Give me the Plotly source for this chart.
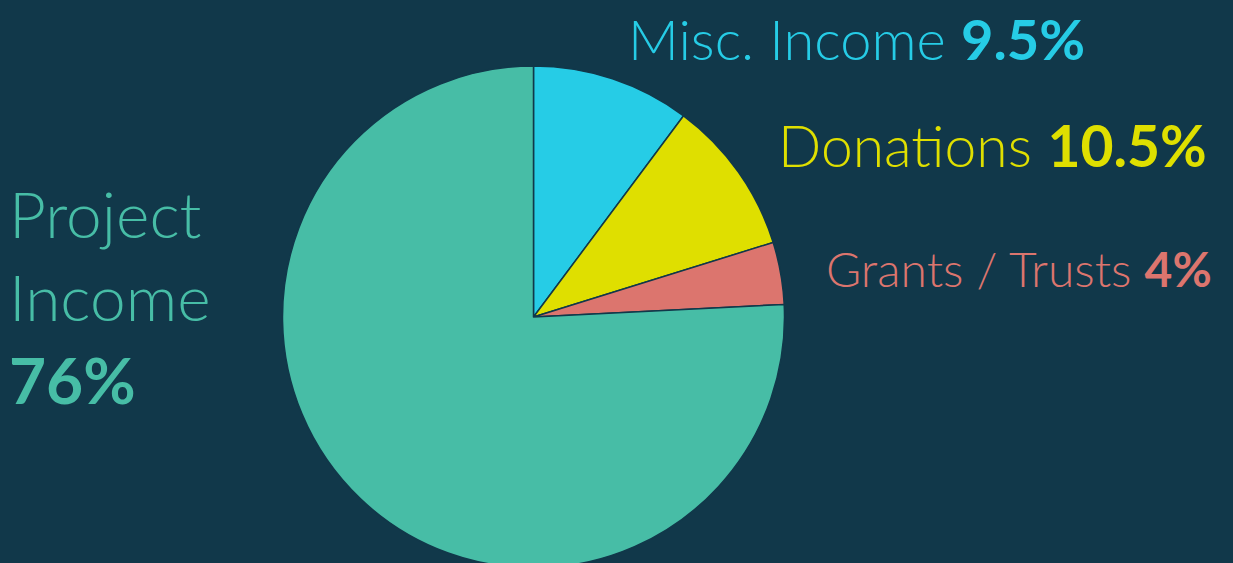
import plotly.graph_objects as go

# Data (slice sizes as drawn) and label texts
categories = ["Misc. Income", "Donations", "Grants / Trusts", "Project Income"]
slice_values = [10.2, 10.0, 4.0, 75.8]
label_pcts = ["9.5%", "10.5%", "4%", "76%"]
colors = ["#26cce6", "#dfdf00", "#dc756e", "#47bda6"]

BG = "#11384a"
W, H = 1233, 580

def px_x(x):
    return x / W

def px_y(y):
    return 1 - y / H

cx, cy, r = 533.5, 317, 251

fig = go.Figure(go.Pie(
    labels=categories,
    values=slice_values,
    sort=False,
    direction="clockwise",
    rotation=0,
    marker=dict(colors=colors, line=dict(color=BG, width=1.5)),
    textinfo="none",
    hoverinfo="label+percent",
    showlegend=False,
    domain=dict(x=[px_x(cx - r), px_x(cx + r)], y=[px_y(cy + r), px_y(cy - r)]),
))

FONT = "Lato"
ann = [
    # text, x_left, y_center, size, color
    (f"{categories[0]} <b>{label_pcts[0]}</b>", 626, 38, 56, colors[0]),
    (f"{categories[1]} <b>{label_pcts[1]}</b>", 776, 145, 57, colors[1]),
    (f"{categories[2]} <b>{label_pcts[2]}</b>", 824, 268, 48, colors[2]),
]
for text, x, y, s, c in ann:
    fig.add_annotation(text=text, x=px_x(x), y=px_y(y), xref="paper", yref="paper",
                       xanchor="left", yanchor="middle", showarrow=False,
                       font=dict(family=FONT, size=s, color=c, weight=300))

fig.add_annotation(text=f"Project<br>Income<br><b>{label_pcts[3]}</b>",
                   x=px_x(7), y=px_y(173), xref="paper", yref="paper",
                   xanchor="left", yanchor="top", align="left", showarrow=False,
                   font=dict(family=FONT, size=64, color=colors[3], weight=300))

fig.update_layout(
    width=W, height=H,
    margin=dict(l=0, r=0, t=0, b=0),
    paper_bgcolor=BG, plot_bgcolor=BG,
)

fig.write_html(
    "out.html",
    config={"displayModeBar": False},
    post_script="document.body.style.margin='0';document.body.style.overflow='hidden';"
                "document.documentElement.style.background='" + BG + "';",
)
